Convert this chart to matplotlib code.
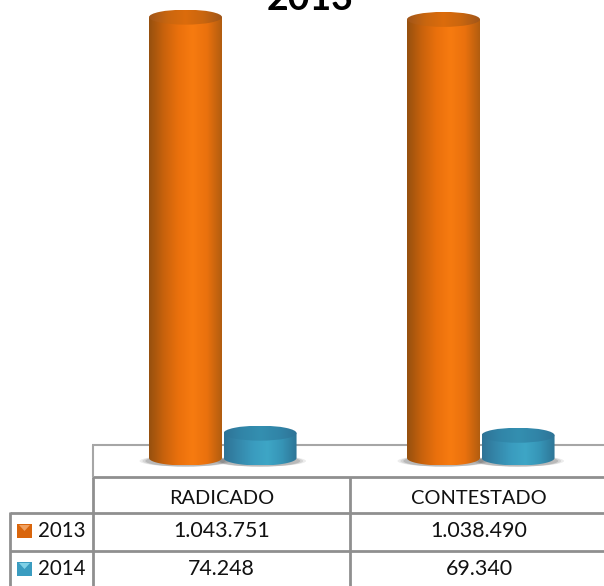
"""
Cylinder chart with data table below, RADICADO / CONTESTADO 2013 vs 2014.
"""

import numpy as np
import matplotlib
matplotlib.use('Agg')
import matplotlib.pyplot as plt
from matplotlib.colors import LinearSegmentedColormap
from matplotlib.patches import Ellipse, Rectangle, PathPatch
from matplotlib.path import Path

categories = ['RADICADO', 'CONTESTADO']
series_names = ['2013', '2014']
values_2013 = [1043751, 1038490]
values_2014 = [74248, 69340]
title = '2013'

W, H = 604, 586
GRAY = '#8f8f8f'
plt.rcParams['font.family'] = ['Lato', 'DejaVu Sans']
plt.rcParams['lines.solid_capstyle'] = 'butt'

orange_body = LinearSegmentedColormap.from_list(
    'ob', ['#96500f', '#c8620c', '#ea700c', '#f77b10', '#ea710d', '#b25d10'])
orange_top = LinearSegmentedColormap.from_list(
    'ot', ['#a0561a', '#c9660f', '#dc6c0c', '#c9660f', '#a0561a'])
teal_body = LinearSegmentedColormap.from_list(
    'tb', ['#2f7396', '#3588ab', '#3a9cbf', '#3ea6c6', '#3694b6', '#2e7596'])
teal_top = LinearSegmentedColormap.from_list(
    'tt', ['#2f7396', '#3185a8', '#348fb0', '#3185a8', '#2f7396'])


def cylinder(ax, x, width, value, per_px, body, top):
    ry = 7.5 * per_px
    foot = 7 * per_px
    # soft shadow on the floor
    for grow, alpha in [(1.26, 0.10), (1.18, 0.14), (1.10, 0.20)]:
        ax.add_patch(Ellipse((x, foot - 3 * per_px), width * grow, 1.5 * ry,
                             fc='#4a4a4a', ec='none', alpha=alpha, zorder=2))
    left, right = x - width / 2, x + width / 2
    grad = np.linspace(0, 1, 128).reshape(1, -1)
    im = ax.imshow(grad, cmap=body, extent=(left, right, foot - ry, value), aspect='auto',
                   zorder=3, interpolation='bilinear')
    theta = np.linspace(np.pi, 2 * np.pi, 40)
    verts = [(left, value)] + list(zip(x + width / 2 * np.cos(theta), foot + ry * np.sin(theta)))
    verts += [(right, value), (left, value)]
    codes = [Path.MOVETO] + [Path.LINETO] * (len(verts) - 2) + [Path.CLOSEPOLY]
    clip = PathPatch(Path(verts, codes), transform=ax.transData, fc='none', ec='none')
    ax.add_patch(clip)
    im.set_clip_path(clip)
    # top face
    cap = ax.imshow(grad, cmap=top, extent=(left, right, value - ry, value + ry),
                    aspect='auto', zorder=4, interpolation='bilinear')
    face = Ellipse((x, value), width, 2 * ry, transform=ax.transData, fc='none', ec='none')
    ax.add_patch(face)
    cap.set_clip_path(face)


fig = plt.figure(figsize=(W / 100, H / 100), dpi=100)

# overlay in pixels for the floor and the table grid
bg = fig.add_axes([0, 0, 1, 1], zorder=1)
bg.set_xlim(0, W)
bg.set_ylim(H, 0)
bg.axis('off')
bg.plot([92, W], [445, 445], color='#a6a6a6', lw=1.5)
bg.plot([92, W], [477, 477], color=GRAY, lw=2)
bg.plot([92.5, 92.5], [445, 477], color='#a6a6a6', lw=1.5)
bg.plot([92.5, 92.5], [477, H], color=GRAY, lw=2)
bg.plot([350, 350], [477, H], color=GRAY, lw=2)
bg.plot([10, 10], [512, H], color=GRAY, lw=2)
bg.plot([10, W], [512.5, 512.5], color=GRAY, lw=2)
bg.plot([10, W], [550.5, 550.5], color=GRAY, lw=2)

# chart axes, x in categories and y in values
base_px = 465
per_px = (values_2013[0] - values_2014[0]) / (433 - 17)
ax = fig.add_axes([93 / W, 0, 1 - 93 / W, 1], zorder=2)
ax.patch.set_alpha(0)
ax.axis('off')
bar_w = 73 / 258
x = np.arange(len(categories))
for i in x:
    cylinder(ax, i - bar_w / 2, bar_w, values_2013[i], per_px, orange_body, orange_top)
    cylinder(ax, i + bar_w / 2 + 0.006, bar_w, values_2014[i], per_px, teal_body, teal_top)
ax.set_xlim(-0.5, -0.5 + (W - 93) / 258)
ax.set_ylim(-(H - base_px) * per_px, base_px * per_px)

# table text
top = fig.add_axes([0, 0, 1, 1], zorder=3)
top.patch.set_alpha(0)
top.set_xlim(0, W)
top.set_ylim(H, 0)
top.axis('off')
top.text(310, 10, title, ha='center', va='baseline', fontsize=27, fontweight='bold', color='black')
col_x = [221.5, 479]
for i, name in enumerate(categories):
    top.text(col_x[i], 498, name, ha='center', va='center', fontsize=14.4, color='#111111')
    top.text(col_x[i], 531, f'{values_2013[i]:,}'.replace(',', '.'), ha='center', va='center',
             fontsize=15.4, color='#111111')
    top.text(col_x[i], 569, f'{values_2014[i]:,}'.replace(',', '.'), ha='center', va='center',
             fontsize=15.4, color='#111111')
for name, y, fc, tip in [(series_names[0], 531, '#d9650c', '#f0a060'),
                         (series_names[1], 569, '#3a9cc0', '#7fd0e6')]:
    top.add_patch(Rectangle((17, y - 7), 15, 14, fc=fc, ec='none'))
    top.fill([19, 30, 24.5], [y - 6, y - 6, y], color=tip, lw=0)
    top.text(38, y, name, ha='left', va='center', fontsize=14.8, color='#111111')

fig.savefig('out.png', dpi=100)
